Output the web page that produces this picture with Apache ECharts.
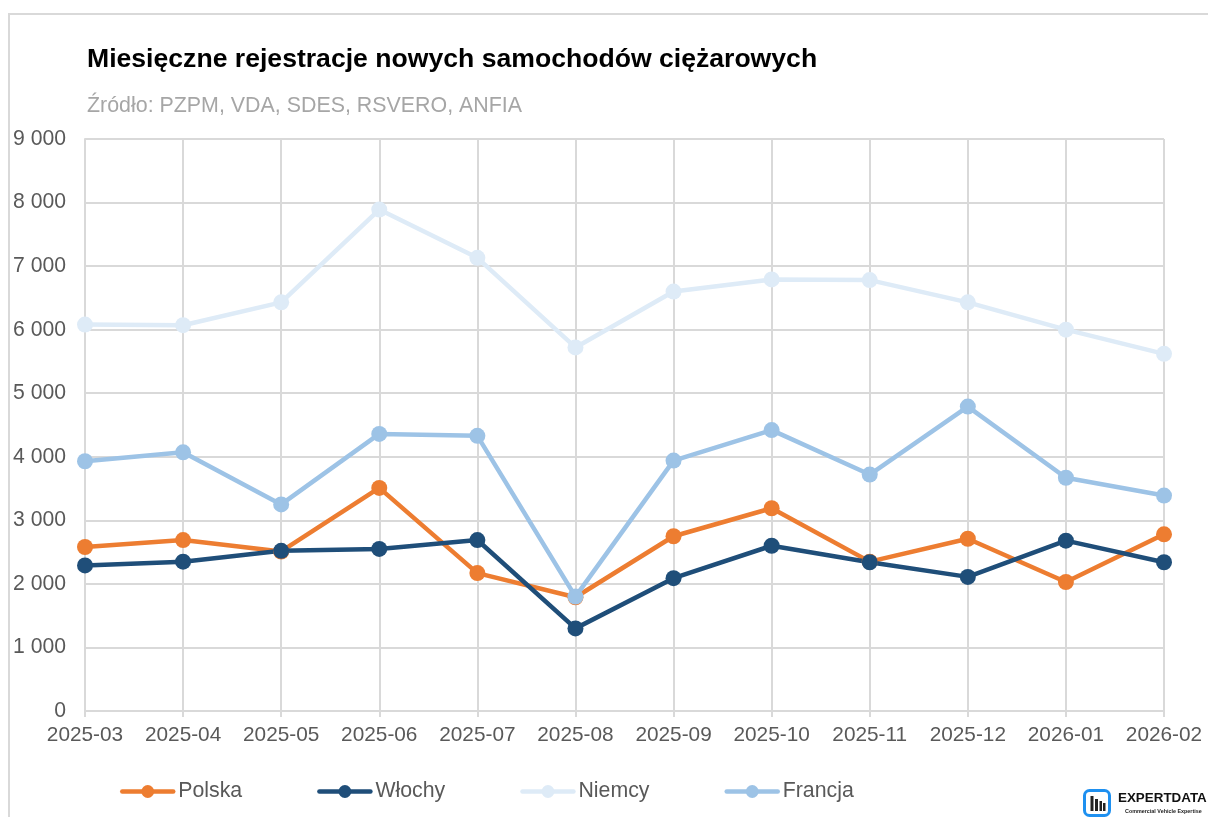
<!DOCTYPE html>
<html>
<head>
<meta charset="utf-8">
<title>Rejestracje samochodów ciężarowych</title>
<script src="https://cdn.jsdelivr.net/npm/echarts@6/dist/echarts.min.js"></script>
<style>
  html, body { margin: 0; padding: 0; background: #fff; }
  #chart { width: 1208px; height: 817px; }
</style>
</head>
<body>
<div id="chart"></div>
<script>
const months = ['2025-03', '2025-04', '2025-05', '2025-06', '2025-07', '2025-08', '2025-09', '2025-10', '2025-11', '2025-12', '2026-01', '2026-02']
const polska = [2580, 2690, 2510, 3510, 2170, 1790, 2750, 3190, 2350, 2710, 2030, 2780]
const wlochy = [2290, 2350, 2520, 2550, 2690, 1300, 2090, 2600, 2340, 2110, 2680, 2340]
const niemcy = [6080, 6070, 6430, 7890, 7130, 5720, 6600, 6790, 6780, 6430, 6000, 5620]
const francja = [3930, 4070, 3250, 4360, 4330, 1800, 3940, 4420, 3720, 4790, 3670, 3390]

const font = '"Liberation Sans", Arial, sans-serif'
const gridColor = '#d9d9d9'
const textColor = '#595959'

const makeLine = (name, data, color) => ({
  name,
  type: 'line',
  data,
  symbol: 'circle',
  symbolSize: 16,
  showSymbol: true,
  lineStyle: { color, width: 4.5, cap: 'round' },
  itemStyle: { color },
  animation: false
})

const chart = echarts.init(document.getElementById('chart'), null, { renderer: 'canvas' })

chart.setOption({
  backgroundColor: '#fff',
  animation: false,
  title: [
    {
      text: 'Miesięczne rejestracje nowych samochodów ciężarowych',
      left: 87,
      top: 46,
      padding: 0,
      textStyle: { fontFamily: font, fontSize: 26.6, fontWeight: 'bold', color: '#000' }
    },
    {
      text: 'Źródło: PZPM, VDA, SDES, RSVERO, ANFIA',
      left: 87,
      top: 96,
      padding: 0,
      textStyle: { fontFamily: font, fontSize: 21.4, fontWeight: 'normal', color: '#a6a6a6' }
    }
  ],
  grid: { left: 85, right: 44, top: 139, bottom: 106, containLabel: false },
  legend: {
    left: 120,
    top: 781,
    padding: 0,
    itemWidth: 51,
    itemHeight: 16,
    itemGap: 75,
    lineStyle: { width: 4.5, cap: 'round' },
    data: ['Polska', 'Włochy', 'Niemcy', 'Francja'],
    textStyle: { fontFamily: font, fontSize: 21.3, color: textColor }
  },
  xAxis: {
    type: 'category',
    data: months,
    boundaryGap: false,
    axisLine: { lineStyle: { color: gridColor, width: 2 } },
    axisTick: { show: true, length: 6, alignWithLabel: true, lineStyle: { color: gridColor, width: 2 } },
    axisLabel: { fontFamily: font, fontSize: 20.8, color: textColor, margin: 14, hideOverlap: false, interval: 0 },
    splitLine: { show: true, lineStyle: { color: gridColor, width: 2 } }
  },
  yAxis: {
    type: 'value',
    min: 0,
    max: 9000,
    interval: 1000,
    axisLine: { show: true, lineStyle: { color: gridColor, width: 2 } },
    axisTick: { show: false },
    axisLabel: {
      fontFamily: font,
      fontSize: 21.2,
      color: textColor,
      margin: 19,
      padding: [2, 0, 0, 0],
      formatter: v => String(v).replace(/\B(?=(\d{3})+$)/g, ' ')
    },
    splitLine: { show: true, lineStyle: { color: gridColor, width: 2 } }
  },
  series: [
    makeLine('Polska', polska, '#ed7d31'),
    makeLine('Włochy', wlochy, '#1f4e79'),
    makeLine('Niemcy', niemcy, '#deebf7'),
    makeLine('Francja', francja, '#9dc3e6')
  ],
  graphic: [
    // outer frame of the pasted chart, cut by the picture on right and bottom
    {
      type: 'rect',
      silent: true,
      shape: { x: 9, y: 14, width: 1300, height: 900 },
      style: { fill: 'none', stroke: gridColor, lineWidth: 2 },
      z: -1
    },
    // logo
    {
      type: 'rect',
      shape: { x: 1084.5, y: 790.5, width: 25, height: 25, r: 5 },
      style: { fill: '#fff', stroke: '#1e90f0', lineWidth: 3 }
    },
    { type: 'rect', shape: { x: 1090.5, y: 796, width: 3, height: 15 }, style: { fill: '#222' } },
    { type: 'rect', shape: { x: 1095, y: 799, width: 3, height: 12 }, style: { fill: '#222' } },
    { type: 'rect', shape: { x: 1099.5, y: 801, width: 2.5, height: 10 }, style: { fill: '#222' } },
    { type: 'rect', shape: { x: 1103, y: 803, width: 2.5, height: 8 }, style: { fill: '#222' } },
    {
      type: 'text',
      style: { x: 1118, y: 792, text: 'EXPERTDATA', font: 'bold 13.4px ' + font, fill: '#111' }
    },
    {
      type: 'text',
      style: { x: 1125, y: 809, text: 'Commercial Vehicle Expertise', font: 'bold 5.4px ' + font, fill: '#222' }
    }
  ]
})
</script>
</body>
</html>
